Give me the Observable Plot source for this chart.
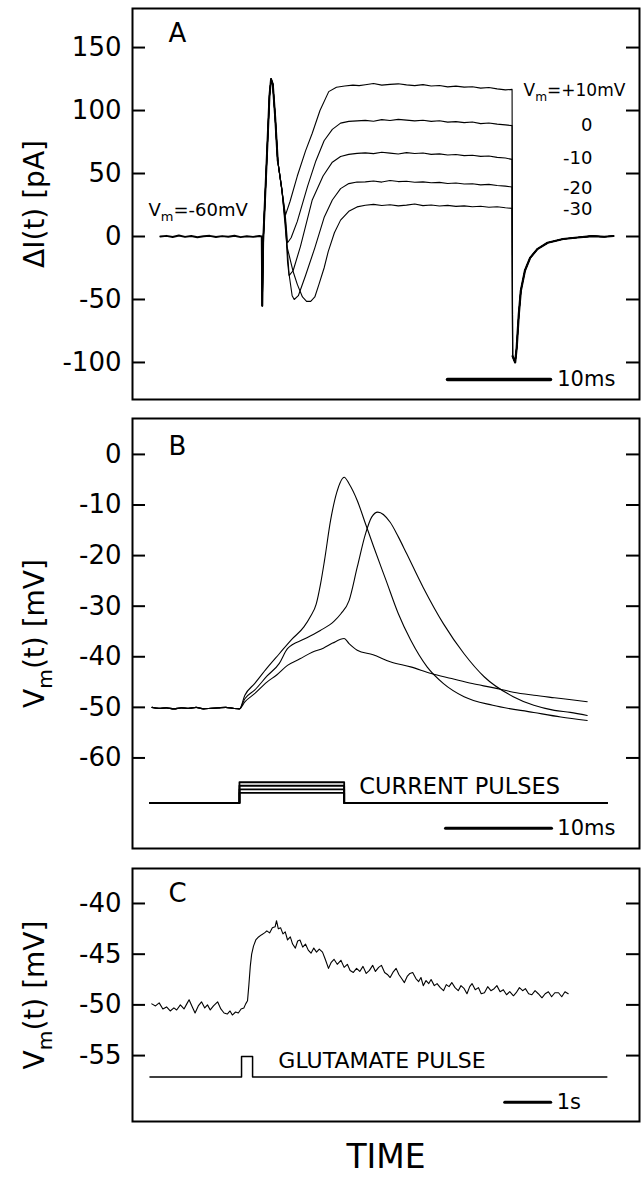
<!DOCTYPE html>
<html><head><meta charset="utf-8">
<script src="https://cdn.jsdelivr.net/npm/d3@7"></script>
<script src="https://cdn.jsdelivr.net/npm/@observablehq/plot@0.6"></script>
<style>
body{margin:0;background:#fff;}
#root{position:relative;width:644px;height:1177px;background:#fff;}
#root svg{position:absolute;left:0;}
</style></head><body><div id="root"></div>
<script>
// ---------- Panel A: ΔI(t) [pA] vs time (ms) ----------
const aTicks = [150, 100, 50, 0, -50, -100];
const aBaseT = [2.7, 3.3, 3.9, 4.5, 5.1, 5.7, 6.3, 6.9, 7.5, 8.1, 8.7, 9.3, 9.9, 10.5, 11.1, 11.7, 12.3, 12.55];
const aBaseV = [0, 0.5, -0.4, 0.8, -0.3, 0.4, -0.6, 0.2, 0.5, -0.4, 0.3, -0.2, 0.6, -0.5, 0.2, -0.3, 0.4, 0];
const aSpikeT = [12.55, 12.6, 12.68, 13.0, 13.3, 13.45, 13.62, 13.85, 14.1];
const aSpikeV = [0, -55, -5, 55, 112, 125, 121, 95, 60];
// responses after the spike, one pair per step potential
const aP10T = [14.5, 14.85, 15.3, 16.0, 16.8, 17.45, 18.2, 19.05, 19.8, 20.6, 21.4, 22.0];
const aP10V = [37, 17, 28, 48, 68, 82, 100, 115, 118.5, 119.5, 120.2, 119.8];
const a0T = [14.5, 14.85, 15.05, 15.4, 16.0, 17.0, 17.8, 18.6, 19.4, 20.2, 21.0, 21.8];
const a0V = [37, 15, -5, -1, 12, 40, 60, 76, 85, 90, 91.4, 91.8];
const aM10T = [14.5, 14.85, 15.05, 15.2, 15.6, 16.3, 17.45, 18.5, 19.4, 20.2, 21.0, 21.8];
const aM10V = [37, 12, -20, -31, -27, -8, 29, 48, 59, 63.5, 65.2, 66];
const aM20T = [14.5, 14.85, 15.2, 15.5, 15.7, 16.1, 16.8, 17.7, 18.6, 19.4, 20.2, 21.0, 21.8];
const aM20V = [37, 10, -30, -47, -50, -47, -31, -9, 15, 29, 38, 42, 43.2];
const aM30T = [14.5, 15.0, 15.6, 16.0, 16.5, 16.9, 17.3, 17.7, 18.1, 18.6, 19.0, 19.6, 20.2, 21.0, 21.8];
const aM30V = [38, -8, -28, -38, -48, -51.5, -51.5, -48, -38, -25, -12, 3, 13, 20, 23.5];
// plateaus
const aPlatT = [22.6, 23.4, 24.2, 25.0, 25.8, 26.6, 27.4, 28.2, 29.0, 29.8, 30.6, 31.4, 32.2, 33.0, 33.8, 34.6, 35.4, 36.2, 36.85];
const aPlatP10 = [120.5, 121.5, 120.2, 120.8, 121.2, 120.4, 119.8, 120.6, 119.5, 119.9, 118.8, 119.4, 118.6, 118.9, 117.8, 118.3, 117.2, 116.4, 116.8];
const aPlat0 = [92.2, 91.5, 92.8, 92.1, 93.0, 92.4, 91.8, 92.3, 91.4, 91.9, 90.8, 91.2, 90.4, 90.9, 89.6, 90.1, 89.2, 88.6, 88.0];
const aPlatM10 = [66.4, 65.8, 66.9, 66.2, 65.5, 66.6, 65.9, 66.3, 65.2, 65.6, 64.7, 65.1, 64.2, 64.5, 63.6, 63.9, 62.8, 62.3, 61.2];
const aPlatM20 = [43.4, 44.1, 43.2, 44.5, 43.6, 43.9, 43.1, 43.4, 42.7, 43.0, 42.1, 42.5, 41.7, 41.9, 41.0, 41.4, 40.5, 40.0, 39.3];
const aPlatM30 = [24.8, 25.5, 24.6, 25.2, 24.3, 24.9, 25.8, 24.5, 25.0, 24.2, 24.7, 23.9, 24.3, 23.6, 24.0, 23.2, 23.6, 22.8, 22.3];
// tail current after the step
const aTailT = [36.9, 37.15, 37.3, 37.5, 37.7, 38.1, 38.6, 39.3, 40.3, 41.8, 43.2, 44.6, 45.8, 46.7];
const aTailV = [-95, -100, -88, -62, -43, -27, -17, -10, -5, -2, -0.8, 0.3, -0.2, 0.4];
const aRightLabels = ["0", "-10", "-20", "-30"];
const aRightLabelV = [88, 61.9, 38.6, 21.4];

// ---------- Panel B: Vm(t) [mV] vs time (ms) ----------
const bTicks = [0, -10, -20, -30, -40, -50, -60];
const bBaseT = [1.84, 2.5, 3.2, 3.9, 4.6, 5.3, 6.0, 6.7, 7.4, 8.1, 8.8, 9.5, 10.09];
const bBaseV = [-50.0, -50.2, -50.1, -50.3, -50.1, -50.2, -50.0, -50.3, -50.2, -50.1, -50.0, -50.2, -50.3];
const bHighT = [10.6, 11.52, 12.7, 13.85, 15.0, 16.17, 16.8, 17.33, 17.75, 18.11, 18.69, 19.27, 19.97, 20.43, 21.2, 21.98, 22.76, 23.92, 25.08, 26.24, 27.79, 29.34, 31.28, 33.99, 37.86, 40.4, 42.9];
const bHighV = [-47.6, -45.3, -42.2, -39.4, -36.6, -34.1, -32.0, -29.6, -25.5, -21, -13, -7.5, -4.5, -5.8, -9.1, -13.7, -18.3, -24.9, -31.5, -36.7, -42.0, -45.3, -47.9, -49.6, -51.0, -51.9, -52.6];
const bMidT = [10.6, 11.52, 12.7, 13.85, 14.62, 16.2, 17.72, 19.0, 19.66, 20.43, 21.2, 21.98, 22.56, 23.14, 24.31, 25.08, 25.86, 27.4, 29.34, 31.28, 33.2, 35.92, 37.86, 39.8, 41.3, 42.9];
const bMidV = [-48.3, -46.6, -43.8, -41.3, -38.4, -36.5, -34.8, -33.0, -31.5, -28.9, -22.3, -15.7, -12.4, -11.4, -13.4, -16.3, -19.6, -26.2, -33.5, -39.4, -44.0, -47.9, -49.6, -50.6, -51.0, -51.6];
const bLowT = [10.6, 11.52, 12.68, 13.6, 14.62, 15.8, 16.95, 18.0, 18.88, 19.97, 20.43, 21.2, 22.7, 24.31, 26.24, 28.18, 30.11, 32.05, 33.99, 35.92, 37.86, 39.8, 41.4, 42.9];
const bLowV = [-48.9, -47.3, -45.0, -43.6, -41.7, -40.4, -39.1, -38.3, -37.3, -36.4, -37.4, -38.7, -39.6, -41.0, -42.0, -43.3, -44.3, -45.3, -46.1, -47.0, -47.6, -48.1, -48.5, -48.9];
const bPulseLevels = [-64.8, -65.5, -66.2, -66.9];
const bPulseBase = -68.9;
const bPulseT = [1.65, 10.09, 19.97, 44.76]; // start, on, off, end

// ---------- Panel C: Vm(t) [mV] vs time (s) ----------
const cTicks = [-40, -45, -50, -55];
const cT = [0.42,0.50,0.58,0.66,0.74,0.82,0.90,0.96,1.04,1.12,1.18,1.23,1.30,1.36,1.43,1.50,1.57,1.63,1.69,1.76,1.85,1.92,1.99,2.06,2.12,2.17,2.24,2.30,2.36,2.42,2.46,2.50,2.53,2.56,2.59,2.63,2.68,2.74,2.80,2.87,2.92,2.98,3.04,3.10,3.13,3.17,3.22,3.27,3.32,3.37,3.43,3.48,3.54,3.59,3.64,3.70,3.76,3.82,3.88,3.94,4.00,4.06,4.13,4.19,4.26,4.32,4.38,4.45,4.53,4.60,4.67,4.73,4.80,4.87,4.94,5.01,5.08,5.15,5.22,5.28,5.35,5.41,5.48,5.54,5.60,5.66,5.73,5.79,5.85,5.91,5.97,6.03,6.09,6.16,6.22,6.27,6.32,6.38,6.44,6.49,6.56,6.62,6.69,6.76,6.82,6.88,6.94,7.01,7.08,7.14,7.21,7.27,7.33,7.38,7.45,7.52,7.58,7.65,7.72,7.79,7.86,7.92,7.99,8.06,8.13,8.20,8.28,8.34,8.41,8.48,8.54,8.61,8.68,8.75,8.82,8.90,8.97,9.04,9.11,9.18,9.26,9.33,9.40,9.47];
const cV = [-49.9,-50.1,-49.8,-50.4,-50.2,-50.6,-50.3,-50.5,-50.0,-50.4,-49.9,-49.5,-50.2,-50.8,-50.1,-49.7,-50.3,-50.0,-50.5,-50.1,-49.7,-50.4,-50.8,-50.9,-50.6,-51.0,-50.7,-50.8,-50.4,-50.3,-49.9,-49.6,-48.0,-46.2,-45.0,-44.2,-43.6,-43.3,-43.1,-42.9,-42.7,-42.9,-42.4,-42.3,-41.7,-42.5,-42.4,-43.0,-42.8,-43.6,-43.3,-44.0,-44.4,-43.7,-43.6,-44.3,-44.0,-44.6,-44.9,-44.4,-44.8,-44.5,-44.8,-45.5,-46.4,-45.8,-45.5,-46.0,-45.6,-46.3,-46.0,-46.6,-46.8,-46.4,-46.7,-46.2,-46.9,-46.6,-46.1,-46.7,-46.3,-46.1,-46.8,-47.0,-47.3,-46.8,-46.4,-47.0,-47.4,-47.8,-47.2,-46.9,-46.8,-47.4,-47.7,-47.3,-48.1,-47.6,-47.9,-47.5,-48.1,-47.9,-48.3,-48.6,-48.0,-48.2,-47.8,-48.3,-48.6,-48.1,-48.4,-48.9,-48.2,-47.9,-48.5,-48.3,-48.9,-48.8,-48.2,-48.6,-48.4,-48.1,-48.7,-48.5,-49.0,-48.7,-49.1,-48.8,-48.3,-48.6,-48.4,-48.9,-49.0,-48.6,-48.9,-49.3,-48.9,-48.7,-49.2,-48.8,-48.8,-49.2,-48.7,-48.9];
const cPulseBase = -57.1, cPulseTop = -55.1;
const cPulseT = [0.38, 2.37, 2.61, 10.31];

// ---------- layout ----------
const W = 644, ML = 132, MR = 5, FW = W - ML - MR, TICK = 13;
const FONT = "DejaVu Sans";
const zip = (ts, vs) => ts.map((t, i) => ({t, v: vs[i]}));
const pulse = (ts, base, lvl) => [
  {t: ts[0], v: base}, {t: ts[1], v: base}, {t: ts[1], v: lvl},
  {t: ts[2], v: lvl}, {t: ts[2], v: base}, {t: ts[3], v: base}];

function frameMarks(ticks, labelText, letter, letterDy) {
  return [
    Plot.frame({stroke: "black", strokeWidth: 2}),
    Plot.tickY(ticks, {y: d => d, insetRight: FW - TICK, stroke: "black", strokeWidth: 2}),
    Plot.tickY(ticks, {y: d => d, insetLeft: FW - TICK, stroke: "black", strokeWidth: 2}),
    Plot.axisY(ticks, {tickSize: 0, tickPadding: 11, fontSize: 26, tickFormat: d => String(d), label: null}),
    Plot.text([labelText], {text: d => d, frameAnchor: "left", dx: -97, rotate: -90, fontSize: 28,
      textAnchor: "middle", lineAnchor: "middle"}),
    Plot.text([letter], {text: d => d, frameAnchor: "top-left", dx: 45, dy: letterDy, fontSize: 26,
      textAnchor: "middle", lineAnchor: "middle"})
  ];
}
function make(opts) {
  return Plot.plot({
    width: W, height: opts.height,
    marginLeft: ML, marginRight: MR, marginTop: opts.mt, marginBottom: opts.mb,
    x: {domain: opts.xDomain, axis: null},
    y: {domain: opts.yDomain, label: null},
    style: {fontFamily: FONT, color: "black", background: "white", overflow: "visible"},
    marks: opts.marks
  });
}

// Panel A
const aTraces = [
  [aP10T, aP10V, aPlatP10], [a0T, a0V, aPlat0], [aM10T, aM10V, aPlatM10],
  [aM20T, aM20V, aPlatM20], [aM30T, aM30V, aPlatM30]
].map(([rt, rv, pv], k) => [
  ...zip(aSpikeT, aSpikeV), ...zip(rt, rv), ...zip(aPlatT, pv), ...zip(aTailT, aTailV)
].map(d => ({...d, k})));
const aLabelT = 1.55, aLabelV = 20.6, aRightT = 44.66, aTopLabelT = 37.96, aTopLabelV = 115.9;
const aBar = {start: 30.58, len: 10, v: -113.5};

const plotA = make({
  height: 409, mt: 8, mb: 10, xDomain: [0, 49.22], yDomain: [-129.4, 181],
  marks: [
    ...frameMarks(aTicks, "\u0394I(t) [pA]", "A", 25),
    Plot.line(aTraces.flat(), {x: "t", y: "v", z: "k", stroke: "black", strokeWidth: 1.1}),
    Plot.line([...zip(aBaseT, aBaseV), ...zip(aSpikeT, aSpikeV)], {x: "t", y: "v", stroke: "black", strokeWidth: 2}),
    Plot.line(zip(aTailT, aTailV), {x: "t", y: "v", stroke: "black", strokeWidth: 2.2}),
    Plot.line([{t: aBar.start, v: aBar.v}, {t: aBar.start + aBar.len, v: aBar.v}], {x: "t", y: "v", stroke: "black", strokeWidth: 3.5}),
    Plot.text(["10ms"], {text: d => d, x: aBar.start + aBar.len + 0.65, y: aBar.v, textAnchor: "start", fontSize: 21}),
    Plot.text(["Vm=-60mV"], {text: d => d, x: aLabelT, y: aLabelV, textAnchor: "start", fontSize: 18}),
    Plot.text(["Vm=+10mV"], {text: d => d, x: aTopLabelT, y: aTopLabelV, textAnchor: "start", fontSize: 17}),
    Plot.text(aRightLabels, {text: d => d, x: aRightT, y: (d, i) => aRightLabelV[i], textAnchor: "end", fontSize: 18})
  ]
});

// Panel B
const bTraces = [[bHighT, bHighV], [bMidT, bMidV], [bLowT, bLowV]]
  .map(([t, v], k) => [...zip(bBaseT, bBaseV), ...zip(t, v)].map(d => ({...d, k})));
const bPulses = bPulseLevels.map((lvl, k) => pulse(bPulseT, bPulseBase, lvl).map(d => ({...d, k})));
const bBar = {start: 29.53, len: 10, v: -73.9};
const plotB = make({
  height: 449, mt: 9, mb: 10, xDomain: [0, 47.83], yDomain: [-77.9, 7.1],
  marks: [
    ...frameMarks(bTicks, "Vm(t) [mV]", "B", 28),
    Plot.line(bTraces.flat(), {x: "t", y: "v", z: "k", stroke: "black", strokeWidth: 1.1, curve: "monotone-x"}),
    Plot.line(bPulses.flat(), {x: "t", y: "v", z: "k", stroke: "black", strokeWidth: 1.8}),
    Plot.text(["CURRENT PULSES"], {text: d => d, x: 21.4, y: -65.8, textAnchor: "start", fontSize: 22.5}),
    Plot.line([{t: bBar.start, v: bBar.v}, {t: bBar.start + bBar.len, v: bBar.v}], {x: "t", y: "v", stroke: "black", strokeWidth: 3}),
    Plot.text(["10ms"], {text: d => d, x: bBar.start + bBar.len + 0.55, y: bBar.v, textAnchor: "start", fontSize: 21})
  ]
});

// Panel C
const cBar = {start: 8.09, len: 1, v: -59.6};
const plotC = make({
  height: 319, mt: 10, mb: 56, xDomain: [0, 11.02], yDomain: [-61.5, -36.55],
  marks: [
    ...frameMarks(cTicks, "Vm(t) [mV]", "C", 25),
    Plot.line(zip(cT, cV), {x: "t", y: "v", stroke: "black", strokeWidth: 1.1}),
    Plot.line(pulse(cPulseT, cPulseBase, cPulseTop), {x: "t", y: "v", stroke: "black", strokeWidth: 1.5}),
    Plot.text(["GLUTAMATE PULSE"], {text: d => d, x: 3.17, y: -55.5, textAnchor: "start", fontSize: 22}),
    Plot.line([{t: cBar.start, v: cBar.v}, {t: cBar.start + cBar.len, v: cBar.v}], {x: "t", y: "v", stroke: "black", strokeWidth: 3}),
    Plot.text(["1s"], {text: d => d, x: cBar.start + cBar.len + 0.13, y: cBar.v, textAnchor: "start", fontSize: 21}),
    Plot.text(["TIME"], {text: d => d, frameAnchor: "bottom", dy: 36, fontSize: 33, lineAnchor: "middle", textAnchor: "middle"})
  ]
});

const root = document.getElementById("root");
[[plotA, 0], [plotB, 409], [plotC, 858]].forEach(([svg, top]) => {
  svg.style.top = top + "px";
  root.appendChild(svg);
});

// subscript "m" in V_m labels
d3.select(root).selectAll("text").each(function () {
  const s = this.textContent;
  if (!s.startsWith("Vm")) return;
  const fs = parseFloat(getComputedStyle(this).fontSize) || 20;
  const sel = d3.select(this);
  sel.text(null);
  sel.append("tspan").text("V");
  sel.append("tspan").attr("font-size", (fs * 0.72).toFixed(1)).attr("dy", (fs * 0.28).toFixed(1)).text("m");
  sel.append("tspan").attr("dy", (-fs * 0.28).toFixed(1)).text(s.slice(2));
});
</script></body></html>
